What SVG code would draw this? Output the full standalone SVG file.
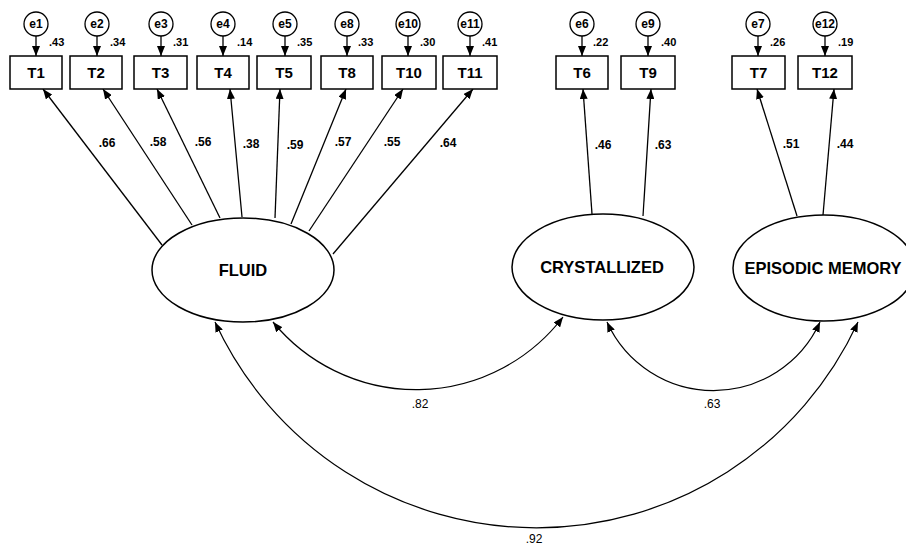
<svg xmlns="http://www.w3.org/2000/svg" width="906" height="547" viewBox="0 0 906 547">
<defs>
<marker id="ah" viewBox="0 0 10 8" refX="10" refY="4" markerWidth="10" markerHeight="8" orient="auto-start-reverse" markerUnits="userSpaceOnUse">
<path d="M0,0 L10,4 L0,8 z" fill="#000"/>
</marker>
<style>
.box{fill:#fff;stroke:#000;stroke-width:1.5}
.err{fill:#fff;stroke:#000;stroke-width:1.3}
.lat{fill:#fff;stroke:#000;stroke-width:1.5}
.c{fill:none;stroke:#000;stroke-width:1.3;marker-end:url(#ah)}
.cv{fill:none;stroke:#000;stroke-width:1.2;marker-start:url(#ah);marker-end:url(#ah)}
text{font-family:"Liberation Sans",Arial,sans-serif;fill:#000}
.bt{font-size:15px;font-weight:bold;text-anchor:middle}
.et{font-size:12px;font-weight:bold;text-anchor:middle}
.rt{font-size:11px;font-weight:bold}
.lt{font-size:12px;font-weight:bold;text-anchor:middle}
.ct{font-size:12px;text-anchor:middle}
.nt{font-size:16.5px;font-weight:bold;text-anchor:middle}
</style>
</defs>
<rect width="906" height="547" fill="#fff"/>

<g id="connectors">
<path class="c" d="M36,36 L36,56"/>
<path class="c" d="M97,36 L97,56"/>
<path class="c" d="M161,36 L161,56"/>
<path class="c" d="M223,36 L223,56"/>
<path class="c" d="M285,36 L285,56"/>
<path class="c" d="M347,36 L347,56"/>
<path class="c" d="M408,36 L408,56"/>
<path class="c" d="M470,36 L470,56"/>
<path class="c" d="M582,36 L582,56"/>
<path class="c" d="M648,36 L648,56"/>
<path class="c" d="M758,36 L758,56"/>
<path class="c" d="M825,36 L825,56"/>
<path class="c" d="M162,245 L43,89"/>
<path class="c" d="M192,225 L103,89"/>
<path class="c" d="M220,218 L157,89"/>
<path class="c" d="M242,217 L230,89"/>
<path class="c" d="M275,218 L280,89"/>
<path class="c" d="M291,224 L346,89"/>
<path class="c" d="M309,231 L403,89"/>
<path class="c" d="M333,254 L473,89"/>
<path class="c" d="M592,214 L583,89"/>
<path class="c" d="M643,216 L651,89"/>
<path class="c" d="M797,216 L757,89"/>
<path class="c" d="M823,215 L834,89"/>
<path class="cv" d="M273,322 A185,185 0 0 0 563,317"/>
<path class="cv" d="M607,322 A117,117 0 0 0 820,322"/>
<path class="cv" d="M215,322 A354,354 0 0 0 858,322"/>
<text class="lt" x="107" y="147">.66</text>
<text class="lt" x="158" y="146">.58</text>
<text class="lt" x="203" y="146">.56</text>
<text class="lt" x="251" y="148">.38</text>
<text class="lt" x="295" y="149">.59</text>
<text class="lt" x="343" y="146">.57</text>
<text class="lt" x="392" y="146">.55</text>
<text class="lt" x="448" y="147">.64</text>
<text class="lt" x="603" y="149">.46</text>
<text class="lt" x="663" y="149">.63</text>
<text class="lt" x="791" y="148">.51</text>
<text class="lt" x="845" y="148">.44</text>
<text class="ct" x="420" y="408">.82</text>
<text class="ct" x="712" y="408">.63</text>
<text class="ct" x="534" y="543">.92</text>
</g>

<g id="e1"><circle class="err" cx="36" cy="24" r="12"/><text class="et" x="36" y="28">e1</text><text class="rt" x="49" y="46">.43</text></g>
<g id="e2"><circle class="err" cx="97" cy="24" r="12"/><text class="et" x="97" y="28">e2</text><text class="rt" x="110" y="46">.34</text></g>
<g id="e3"><circle class="err" cx="161" cy="24" r="12"/><text class="et" x="161" y="28">e3</text><text class="rt" x="173" y="46">.31</text></g>
<g id="e4"><circle class="err" cx="223" cy="24" r="12"/><text class="et" x="223" y="28">e4</text><text class="rt" x="237" y="46">.14</text></g>
<g id="e5"><circle class="err" cx="285" cy="24" r="12"/><text class="et" x="285" y="28">e5</text><text class="rt" x="297" y="46">.35</text></g>
<g id="e8"><circle class="err" cx="347" cy="24" r="12"/><text class="et" x="347" y="28">e8</text><text class="rt" x="358" y="46">.33</text></g>
<g id="e10"><circle class="err" cx="408" cy="24" r="12"/><text class="et" x="408" y="28">e10</text><text class="rt" x="420" y="46">.30</text></g>
<g id="e11"><circle class="err" cx="470" cy="24" r="12"/><text class="et" x="470" y="28">e11</text><text class="rt" x="482" y="46">.41</text></g>
<g id="e6"><circle class="err" cx="582" cy="24" r="12"/><text class="et" x="582" y="28">e6</text><text class="rt" x="593" y="46">.22</text></g>
<g id="e9"><circle class="err" cx="648" cy="24" r="12"/><text class="et" x="648" y="28">e9</text><text class="rt" x="661" y="46">.40</text></g>
<g id="e7"><circle class="err" cx="758" cy="24" r="12"/><text class="et" x="758" y="28">e7</text><text class="rt" x="770" y="46">.26</text></g>
<g id="e12"><circle class="err" cx="825" cy="24" r="12"/><text class="et" x="825" y="28">e12</text><text class="rt" x="838" y="46">.19</text></g>

<g id="T1"><rect class="box" x="10" y="56" width="52" height="33"/><text class="bt" x="36" y="78">T1</text></g>
<g id="T2"><rect class="box" x="70" y="56" width="52" height="33"/><text class="bt" x="96" y="78">T2</text></g>
<g id="T3"><rect class="box" x="134" y="56" width="53" height="33"/><text class="bt" x="160.5" y="78">T3</text></g>
<g id="T4"><rect class="box" x="197" y="56" width="52" height="33"/><text class="bt" x="223" y="78">T4</text></g>
<g id="T5"><rect class="box" x="257" y="56" width="54" height="33"/><text class="bt" x="284" y="78">T5</text></g>
<g id="T8"><rect class="box" x="321" y="56" width="52" height="33"/><text class="bt" x="347" y="78">T8</text></g>
<g id="T10"><rect class="box" x="382" y="56" width="54" height="33"/><text class="bt" x="409" y="78">T10</text></g>
<g id="T11"><rect class="box" x="443" y="56" width="54" height="33"/><text class="bt" x="470" y="78">T11</text></g>
<g id="T6"><rect class="box" x="556" y="56" width="52" height="33"/><text class="bt" x="582" y="78">T6</text></g>
<g id="T9"><rect class="box" x="621" y="56" width="54" height="33"/><text class="bt" x="648" y="78">T9</text></g>
<g id="T7"><rect class="box" x="732" y="56" width="53" height="33"/><text class="bt" x="758.5" y="78">T7</text></g>
<g id="T12"><rect class="box" x="798" y="56" width="54" height="33"/><text class="bt" x="825" y="78">T12</text></g>

<g id="FLUID"><ellipse class="lat" cx="243" cy="270" rx="91" ry="52"/><text class="nt" x="243" y="276">FLUID</text></g>
<g id="CRYSTALLIZED"><ellipse class="lat" cx="603" cy="267" rx="91" ry="53"/><text class="nt" x="602" y="273">CRYSTALLIZED</text></g>
<g id="EPISODIC"><ellipse class="lat" cx="824" cy="268" rx="91" ry="53"/><text class="nt" x="823" y="274">EPISODIC MEMORY</text></g>
</svg>
